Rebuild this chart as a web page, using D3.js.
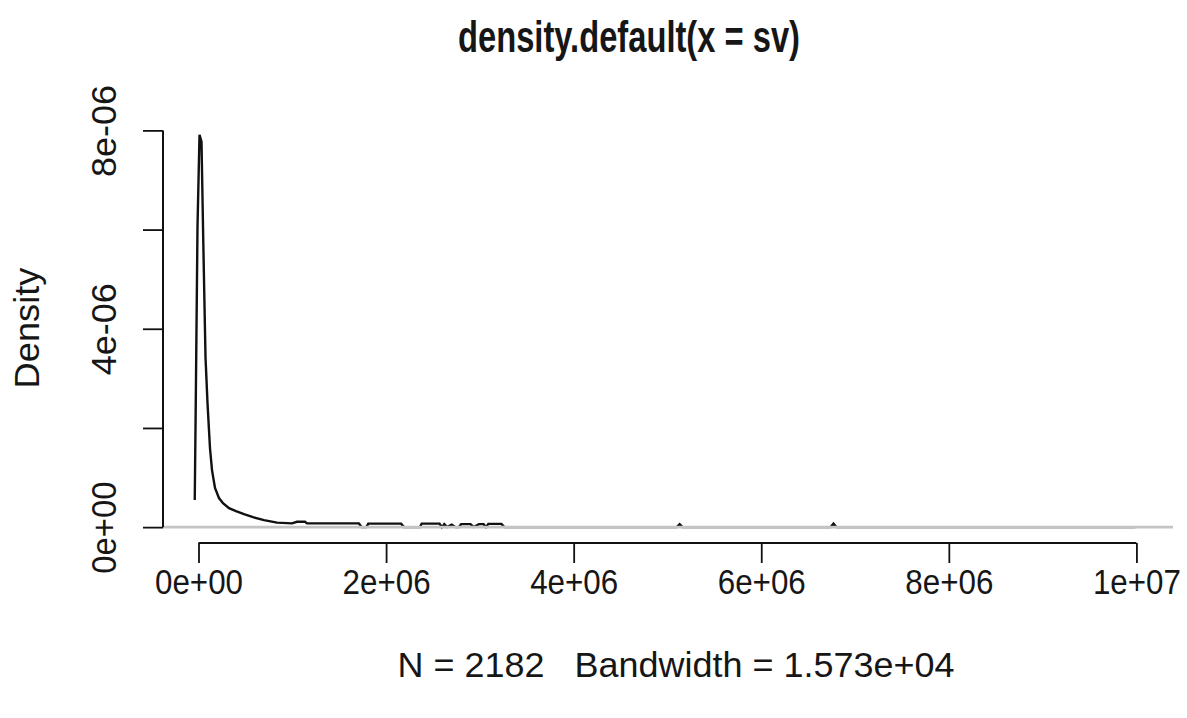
<!DOCTYPE html>
<html>
<head>
<meta charset="utf-8">
<script src="https://cdn.jsdelivr.net/npm/d3@7"></script>
<style>
  body { margin: 0; background: #fff; }
  text { font-family: "Liberation Sans", Arial, sans-serif; fill: #161616; white-space: pre; }
</style>
</head>
<body>
<div id="chart"></div>
<script>
// density curve: x in value units, y in units of 1e-6
var densX = [-40000, -30000, -10700, 10700, 32000, 51200, 74600, 96000, 122600, 143900,
  175900, 218600, 261200, 325200, 399800, 485100, 581000, 698300, 836900, 996800,
  1050000, 1135000, 1157000, 1710000, 1740000, 1790000, 1810000, 2160000, 2190000,
  2360000, 2380000, 2570000, 2595000, 2620000, 2650000, 2700000, 2740000, 2775000,
  2800000, 2900000, 2935000, 2990000, 3040000, 3065000, 3090000, 3230000, 3260000,
  5100000, 5130000, 5160000, 6740000, 6770000, 6800000, 9990000];
var densY = [0.545, 2.36, 6.05, 7.91, 7.77, 5.73, 3.43, 2.50, 1.59, 1.15,
  0.79, 0.585, 0.484, 0.383, 0.323, 0.262, 0.202, 0.141, 0.091, 0.075,
  0.107, 0.107, 0.075, 0.075, 0.0, 0.0, 0.07, 0.07, 0.0,
  0.0, 0.07, 0.07, 0.0, 0.06, 0.0, 0.05, 0.0, 0.0,
  0.06, 0.06, 0.0, 0.06, 0.06, 0.0, 0.065, 0.065, 0.0,
  0.0, 0.06, 0.0, 0.0, 0.07, 0.0, 0.0];

var xTicks = [0, 2e6, 4e6, 6e6, 8e6, 1e7];
var xTickLabels = ["0e+00", "2e+06", "4e+06", "6e+06", "8e+06", "1e+07"];
var yTicks = [0, 2e-6, 4e-6, 6e-6, 8e-6];
var yTickLabels = ["0e+00", "", "4e-06", "", "8e-06"];

var titleText = "density.default(x = sv)";
var xLabelText = "N = 2182   Bandwidth = 1.573e+04";
var yLabelText = "Density";

var width = 1187, height = 718;
var plot = {left: 163, right: 1173, top: 117, bottom: 543};

var svg = d3.select("#chart").append("svg")
  .attr("width", width)
  .attr("height", height)
  .style("background", "#fff");

// user coordinates of the plot region (R style, 4% padding)
var x = d3.scaleLinear().domain([-0.3785e6, 10.39e6]).range([plot.left, plot.right]);
var y = d3.scaleLinear().domain([-0.32e-6, 8.27e-6]).range([plot.bottom, plot.top]);

var pts = densX.map(function(d, i) { return [d, densY[i] * 1e-6]; });

var line = d3.line()
  .x(function(d) { return x(d[0]); })
  .y(function(d) { return y(d[1]); });

svg.append("path")
  .datum(pts)
  .attr("d", line)
  .attr("fill", "none")
  .attr("stroke", "#111")
  .attr("stroke-width", 2.4);

// zero line goes on top of the curve, like abline(h = 0, col = "gray")
svg.append("line")
  .attr("x1", plot.left).attr("x2", plot.right)
  .attr("y1", y(0)).attr("y2", y(0))
  .attr("stroke", "#c4c4c4")
  .attr("stroke-width", 2.8);

// x axis
var xAxis = svg.append("g")
  .attr("transform", "translate(0," + plot.bottom + ")")
  .call(d3.axisBottom(x).tickValues(xTicks).tickSize(20)
    .tickFormat(function(d, i) { return xTickLabels[i]; }));
xAxis.select(".domain").remove();
xAxis.append("line")
  .attr("x1", x(xTicks[0])).attr("x2", x(xTicks[xTicks.length - 1]))
  .attr("stroke", "#111").attr("stroke-width", 2);
xAxis.selectAll(".tick line").attr("stroke", "#111").attr("stroke-width", 1.8);
xAxis.selectAll(".tick text")
  .attr("y", 51).attr("dy", null)
  .attr("font-size", 35)
  .attr("textLength", 88).attr("lengthAdjust", "spacingAndGlyphs")
  .attr("fill", "#161616");

// y axis
var yAxis = svg.append("g")
  .attr("transform", "translate(" + plot.left + ",0)")
  .call(d3.axisLeft(y).tickValues(yTicks).tickSize(20)
    .tickFormat(function(d, i) { return yTickLabels[i]; }));
yAxis.select(".domain").remove();
yAxis.append("line")
  .attr("y1", y(yTicks[0])).attr("y2", y(yTicks[yTicks.length - 1]))
  .attr("stroke", "#111").attr("stroke-width", 2);
yAxis.selectAll(".tick line").attr("stroke", "#111").attr("stroke-width", 1.8);
yAxis.selectAll(".tick text")
  .attr("transform", "rotate(-90)")
  .attr("x", 0).attr("y", -47).attr("dy", null)
  .attr("text-anchor", "middle")
  .attr("font-size", 35)
  .attr("textLength", function() { return this.textContent ? 92 : null; })
  .attr("lengthAdjust", "spacingAndGlyphs")
  .attr("fill", "#161616");

// titles
svg.append("text")
  .attr("x", 629).attr("y", 52)
  .attr("text-anchor", "middle")
  .attr("font-size", 45).attr("font-weight", "bold")
  .attr("textLength", 342).attr("lengthAdjust", "spacingAndGlyphs")
  .text(titleText);

svg.append("text")
  .attr("x", 676).attr("y", 677)
  .attr("text-anchor", "middle")
  .attr("font-size", 35)
  .attr("textLength", 557).attr("lengthAdjust", "spacingAndGlyphs")
  .text(xLabelText);

svg.append("text")
  .attr("transform", "translate(39,328) rotate(-90)")
  .attr("text-anchor", "middle")
  .attr("font-size", 35)
  .attr("textLength", 121).attr("lengthAdjust", "spacingAndGlyphs")
  .text(yLabelText);
</script>
</body>
</html>
